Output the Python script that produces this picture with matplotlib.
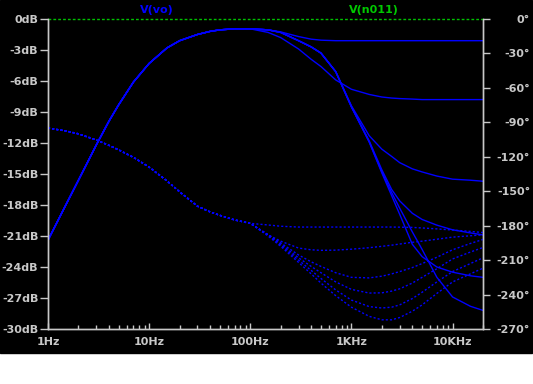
import numpy as np
import matplotlib
matplotlib.use("Agg")
import matplotlib.pyplot as plt
from matplotlib.patches import Rectangle

# ========== 1. Data ==========
freq = [1, 1.5, 2, 3, 4, 5, 7, 10, 15, 20, 30, 40, 50, 70, 100,
        150, 200, 300, 400, 500, 700, 1000, 1500, 2000, 2500, 3000,
        4000, 5000, 7000, 10000, 15000, 20000]

# common low-frequency part of every magnitude trace (1Hz .. 100Hz)
mag_low = [-21.4, -18.0, -15.6, -12.2, -9.9, -8.3, -6.1, -4.3, -2.8, -2.1,
           -1.5, -1.2, -1.05, -0.95, -0.95]

# 150Hz .. 20kHz for each trace
mag_a = [-1.05, -1.25, -1.7, -1.95, -2.05, -2.1, -2.1, -2.1, -2.1, -2.1, -2.1,
         -2.1, -2.1, -2.1, -2.1, -2.1, -2.1]
mag_b = [-1.3, -1.8, -2.9, -3.9, -4.6, -5.9, -6.8, -7.3, -7.55, -7.65, -7.7,
         -7.75, -7.8, -7.8, -7.8, -7.8, -7.8]
mag_c = [-1.05, -1.3, -2.1, -2.7, -3.3, -5.1, -8.4, -11.3, -12.6, -13.3, -13.9,
         -14.5, -14.8, -15.2, -15.5, -15.6, -15.7]
mag_d = [-1.05, -1.3, -2.1, -2.7, -3.3, -5.1, -8.5, -11.8, -14.6, -16.5, -17.6,
         -18.8, -19.4, -19.95, -20.4, -20.7, -20.9]
mag_e = [-1.05, -1.3, -2.1, -2.7, -3.3, -5.1, -8.5, -11.9, -14.9, -17.1, -18.9,
         -21.8, -23.0, -24.0, -24.5, -24.85, -25.0]
mag_f = [-1.05, -1.3, -2.1, -2.7, -3.3, -5.1, -8.5, -11.9, -14.8, -16.8, -18.3,
         -20.6, -22.3, -25.0, -26.9, -27.8, -28.2]

# common low-frequency part of every phase trace (1Hz .. 100Hz)
ph_low = [-95, -97.5, -100, -105.4, -110, -114, -120.5, -129, -141, -150.5,
          -163, -168, -171, -175, -178]

ph_1 = [-179.4, -180.5, -181.2, -181.2, -181.2, -181.2, -181.2, -181.2, -181.2,
        -181.2, -181.3, -181.5, -182, -182.8, -183.8, -185, -186]
ph_2 = [-188, -193.5, -199.5, -201, -201.5, -201.3, -200.5, -199.2, -198, -197,
        -196, -194.5, -193.5, -191.8, -190, -188.8, -188]
ph_3 = [-188, -195, -205.5, -211.5, -215.5, -221, -225, -225.5, -224, -222,
        -220, -216.5, -213, -207.5, -201, -195.5, -192]
ph_4 = [-188, -196, -208, -215.5, -221, -229, -235.5, -238.7, -238.5, -237,
        -235, -230, -225, -217.5, -209, -203, -199]
ph_5 = [-188, -197, -210, -219, -226, -236, -244.8, -250.5, -251.7, -251,
        -249, -243.5, -238, -229, -220, -213, -208]
ph_6 = [-189, -198, -212, -222, -230, -241, -251, -259, -262, -262,
        -260, -254.5, -249, -239, -229, -222, -217]

mag_traces = [mag_a, mag_b, mag_c, mag_d, mag_e, mag_f]
ph_traces = [ph_1, ph_2, ph_3, ph_4, ph_5, ph_6]

db_ticks = list(range(0, -31, -3))
deg_ticks = list(range(0, -271, -30))
freq_ticks = [1, 10, 100, 1000, 10000]
freq_labels = ["1Hz", "10Hz", "100Hz", "1KHz", "10KHz"]

# ========== 2. Figure ==========
W, H = 533, 384
fig = plt.figure(figsize=(W / 100, H / 100), dpi=100, facecolor="white")
fig.patches.append(Rectangle((0, (H - 353) / H), 532 / W, 353 / H,
                             transform=fig.transFigure, color="black", zorder=-10))

ax = fig.add_axes([48 / W, (H - 329) / H, 435 / W, 310 / H])
ax.set_facecolor("black")
ax2 = ax.twinx()

blue = "#0000ff"
grey = "#c8c8c8"

for tr in mag_traces:
    ax.plot(freq, mag_low + tr, color=blue, lw=1.0, solid_joinstyle="round")
for tr in ph_traces:
    ax2.plot(freq, ph_low + tr, color=blue, lw=1.0, linestyle=(0, (1.5, 1.5)))

ax.set_xscale("log")
ax.set_xlim(1, 20000)
ax.set_ylim(-30, 0)
ax2.set_ylim(-270, 0)

# top border: green dashed
ax.axhline(0, color="#00c000", lw=1.0, linestyle=(0, (2, 1.5)), clip_on=False, zorder=5)

for a in (ax, ax2):
    a.spines["top"].set_visible(False)
    for s in ("left", "right", "bottom"):
        a.spines[s].set_color(grey)
        a.spines[s].set_linewidth(1.0)

ax.set_yticks(db_ticks)
ax.set_yticklabels([f"{t}dB" for t in db_ticks])
ax.set_xticks(freq_ticks)
ax.set_xticklabels(freq_labels)
ax.xaxis.set_minor_locator(matplotlib.ticker.LogLocator(base=10, subs=np.arange(2, 10)))
ax.xaxis.set_minor_formatter(matplotlib.ticker.NullFormatter())

font = dict(family="DejaVu Sans", size=8, weight="bold")
ax.tick_params(axis="y", colors=grey, direction="out", length=6, width=1, pad=1, labelsize=8)
ax.tick_params(axis="x", which="major", colors=grey, direction="in", length=4, width=1, pad=6, labelsize=8)
ax.tick_params(axis="x", which="minor", colors=grey, direction="in", length=3, width=1)

ax2.set_yticks(deg_ticks)
ax2.set_yticklabels([f"{t}°" for t in deg_ticks])
ax2.tick_params(axis="y", colors=grey, direction="out", length=5, width=1, pad=29, labelsize=8)
for lbl in ax2.get_yticklabels():
    lbl.set_horizontalalignment("right")
    lbl.set_fontweight("bold")
for lbl in ax.get_yticklabels() + ax.get_xticklabels():
    lbl.set_fontweight("bold")

fig.text(157 / W, 1 - 10 / H, "V(vo)", color=blue, ha="center", va="center", **font)
fig.text(374 / W, 1 - 10 / H, "V(n011)", color="#00c800", ha="center", va="center", **font)

fig.savefig("out.png", dpi=100, facecolor=fig.get_facecolor())
